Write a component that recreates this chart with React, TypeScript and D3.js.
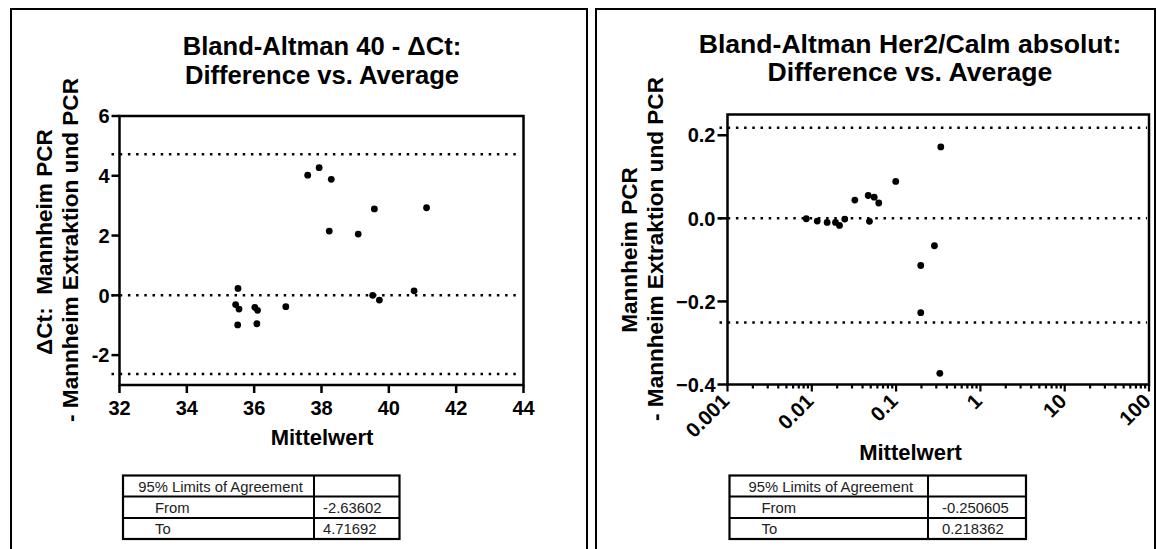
import React, { useEffect, useRef } from 'react';
import * as d3 from 'd3';

// Bland-Altman 40 - ΔCt
const ctAverage = [37.59, 37.93, 38.29, 38.23, 39.09, 39.57, 41.12, 39.52, 39.72, 40.75, 36.94, 35.52, 35.45, 35.55, 35.51, 36.02, 36.1, 36.08];
const ctDifference = [4.02, 4.27, 3.88, 2.15, 2.05, 2.89, 2.93, 0.0, -0.16, 0.15, -0.38, 0.23, -0.31, -0.46, -0.99, -0.4, -0.5, -0.95];
const ctLimits = [-2.63602, 4.71692];
const ctXTicks = [32, 34, 36, 38, 40, 42, 44];
const ctYTicks = [-2, 0, 2, 4, 6];

// Bland-Altman Her2/Calm absolut
const her2Average = [0.0086, 0.0116, 0.0152, 0.0191, 0.0213, 0.0246, 0.0324, 0.0467, 0.055, 0.0623, 0.0483, 0.099, 0.339, 0.285, 0.196, 0.196, 0.33];
const her2Difference = [-0.001, -0.0065, -0.0097, -0.0097, -0.017, -0.0017, 0.044, 0.055, 0.051, 0.037, -0.0072, 0.089, 0.172, -0.066, -0.1135, -0.227, -0.373];
const her2Limits = [-0.250605, 0.218362];
const her2XTicks = [0.001, 0.01, 0.1, 1, 10, 100];
const her2XLabels = ['0.001', '0.01', '0.1', '1', '10', '100'];
const her2YTicks = [-0.4, -0.2, 0.0, 0.2];

const tableHeader = '95% Limits of Agreement';
const tableRows = ['From', 'To'];

const FONT = "'Liberation Sans', Arial, Helvetica, sans-serif";

const drawPanel = (svg: any, p: any) => {
  const g = svg.append('g').attr('font-family', FONT);
  const { plot } = p;

  // outer frame, bottom edge runs off the page
  g.append('path')
    .attr('d', `M${p.frame[0]},560V9H${p.frame[1]}V560`)
    .attr('fill', 'none')
    .attr('stroke', '#000')
    .attr('stroke-width', 2);

  p.title.forEach((t: string, i: number) => {
    g.append('text')
      .attr('x', p.titleX)
      .attr('y', p.titleY[i])
      .attr('text-anchor', 'middle')
      .attr('font-size', p.titleSize)
      .attr('font-weight', 'bold')
      .text(t);
  });

  // y axis title, two rotated lines
  p.yTitle.forEach((t: string, i: number) => {
    g.append('text')
      .attr('transform', `translate(${p.yTitleX[i]},${p.yTitleY[i]}) rotate(-90)`)
      .attr('dy', '0.35em')
      .attr('text-anchor', 'middle')
      .attr('font-size', 22.6)
      .attr('font-weight', 'bold')
      .style('white-space', 'pre')
      .text(t);
  });

  g.append('text')
    .attr('x', p.xTitleX)
    .attr('y', p.xTitleY)
    .attr('text-anchor', 'middle')
    .attr('font-size', 22)
    .attr('font-weight', 'bold')
    .text('Mittelwert');

  const x = p.x;
  const y = p.y;

  // reference lines: lower limit, zero, upper limit
  [p.limits[0], 0, p.limits[1]].forEach((v: number) => {
    g.append('line')
      .attr('x1', plot.left - 8)
      .attr('x2', plot.right - 2)
      .attr('y1', y(v))
      .attr('y2', y(v))
      .attr('stroke', '#000')
      .attr('stroke-width', 2.5)
      .attr('stroke-dasharray', '2.5,5.7');
  });

  // plot box
  g.append('rect')
    .attr('x', plot.left)
    .attr('y', plot.top)
    .attr('width', plot.right - plot.left)
    .attr('height', plot.bottom - plot.top)
    .attr('fill', 'none')
    .attr('stroke', '#000')
    .attr('stroke-width', 2.5);

  // y ticks
  p.yTicks.forEach((v: number) => {
    g.append('line')
      .attr('x1', plot.left - p.yTickLen)
      .attr('x2', plot.left)
      .attr('y1', y(v))
      .attr('y2', y(v))
      .attr('stroke', '#000')
      .attr('stroke-width', 2.5);
    g.append('text')
      .attr('x', plot.left - p.yTickLen - 2)
      .attr('y', y(v))
      .attr('dy', '0.36em')
      .attr('text-anchor', 'end')
      .attr('font-size', 20)
      .attr('font-weight', 'bold')
      .text(p.yFormat(v));
  });

  // x ticks
  if (p.log) {
    x.ticks().forEach((v: number) => {
      const major = Math.abs(Math.log10(v) - Math.round(Math.log10(v))) < 1e-6;
      g.append('line')
        .attr('x1', x(v))
        .attr('x2', x(v))
        .attr('y1', plot.bottom)
        .attr('y2', plot.bottom + (major ? 7 : 4))
        .attr('stroke', '#000')
        .attr('stroke-width', 2.2);
    });
    p.xTicks.forEach((v: number, i: number) => {
      g.append('text')
        .attr('transform', `translate(${x(v) + 3},${plot.bottom + 18}) rotate(-45)`)
        .attr('text-anchor', 'end')
        .attr('font-size', 20.5)
        .attr('font-weight', 'bold')
        .text(p.xLabels[i]);
    });
  } else {
    p.xTicks.forEach((v: number) => {
      g.append('line')
        .attr('x1', x(v))
        .attr('x2', x(v))
        .attr('y1', plot.bottom)
        .attr('y2', plot.bottom + 8)
        .attr('stroke', '#000')
        .attr('stroke-width', 2.5);
      g.append('text')
        .attr('x', x(v))
        .attr('y', plot.bottom + 30)
        .attr('text-anchor', 'middle')
        .attr('font-size', 20)
        .attr('font-weight', 'bold')
        .text(v);
    });
  }

  // points
  g.selectAll('circle.pt')
    .data(d3.zip(p.avg, p.diff))
    .enter()
    .append('circle')
    .attr('class', 'pt')
    .attr('cx', (d: number[]) => x(d[0]))
    .attr('cy', (d: number[]) => y(d[1]))
    .attr('r', 3.4)
    .attr('fill', '#000');

  // limits table
  const t = p.table;
  const rows = [475.5, 496.5, 518, 539];
  g.append('rect')
    .attr('x', t.left)
    .attr('y', rows[0])
    .attr('width', t.right - t.left)
    .attr('height', rows[3] - rows[0])
    .attr('fill', 'none')
    .attr('stroke', '#000')
    .attr('stroke-width', 2.2);
  [rows[1], rows[2]].forEach((r) => {
    g.append('line')
      .attr('x1', t.left)
      .attr('x2', t.right)
      .attr('y1', r)
      .attr('y2', r)
      .attr('stroke', '#000')
      .attr('stroke-width', 2);
  });
  g.append('line')
    .attr('x1', t.sep)
    .attr('x2', t.sep)
    .attr('y1', rows[0])
    .attr('y2', rows[3])
    .attr('stroke', '#000')
    .attr('stroke-width', 2);

  g.append('text')
    .attr('x', (t.left + t.sep) / 2 + 2)
    .attr('y', 491.5)
    .attr('text-anchor', 'middle')
    .attr('font-size', 14.8)
    .attr('fill', '#222')
    .text(tableHeader);
  tableRows.forEach((label, i) => {
    g.append('text')
      .attr('x', t.left + 32)
      .attr('y', [513, 533.5][i])
      .attr('font-size', 14.8)
      .attr('fill', '#222')
      .text(label);
    g.append('text')
      .attr('x', t.value)
      .attr('y', [513, 533.5][i])
      .attr('font-size', 14.8)
      .attr('fill', '#222')
      .text(String(p.limits[i]));
  });
};

const App = () => {
  const ref = useRef<SVGSVGElement>(null);

  useEffect(() => {
    const svg = d3.select(ref.current);
    svg.selectAll('*').remove();

    const leftPlot = { left: 119.5, right: 523.5, top: 116, bottom: 385 };
    drawPanel(svg, {
      frame: [11, 587],
      plot: leftPlot,
      x: d3.scaleLinear().domain([32, 44]).range([leftPlot.left, leftPlot.right]),
      y: d3.scaleLinear().domain([-3, 6]).range([leftPlot.bottom, leftPlot.top]),
      log: false,
      title: ['Bland-Altman 40 - \u0394Ct:', 'Difference vs. Average'],
      titleX: 322,
      titleY: [54.5, 84],
      titleSize: 25.6,
      yTitle: ['\u0394Ct:  Mannheim PCR', '- Mannheim Extraktion und PCR'],
      yTitleX: [44, 70],
      yTitleY: [242, 250],
      xTitleX: 322,
      xTitleY: 445,
      xTicks: ctXTicks,
      yTicks: ctYTicks,
      yTickLen: 8,
      yFormat: (v: number) => String(v),
      avg: ctAverage,
      diff: ctDifference,
      limits: ctLimits,
      table: { left: 123, sep: 314, right: 399.5, value: 323 },
    });

    const rightPlot = { left: 727.5, right: 1149, top: 114.5, bottom: 384.5 };
    drawPanel(svg, {
      frame: [596, 1155],
      plot: rightPlot,
      x: d3.scaleLog().domain([0.001, 100]).range([rightPlot.left, rightPlot.right]),
      y: d3.scaleLinear().domain([-0.4, 0.25]).range([rightPlot.bottom, rightPlot.top]),
      log: true,
      title: ['Bland-Altman Her2/Calm absolut:', 'Difference vs. Average'],
      titleX: 910,
      titleY: [52.5, 81],
      titleSize: 26.6,
      yTitle: ['Mannheim PCR', '- Mannheim Extraktion und PCR'],
      yTitleX: [629, 655],
      yTitleY: [250, 249],
      xTitleX: 910.5,
      xTitleY: 460,
      xTicks: her2XTicks,
      xLabels: her2XLabels,
      yTicks: her2YTicks,
      yTickLen: 10,
      yFormat: d3.format('.1f'),
      avg: her2Average,
      diff: her2Difference,
      limits: her2Limits,
      table: { left: 729.5, sep: 928, right: 1026, value: 942 },
    });
  }, []);

  return (
    <svg
      ref={ref}
      width={1157}
      height={549}
      style={{ position: 'absolute', left: 0, top: 0, background: '#fff' }}
    />
  );
};

export default App;
